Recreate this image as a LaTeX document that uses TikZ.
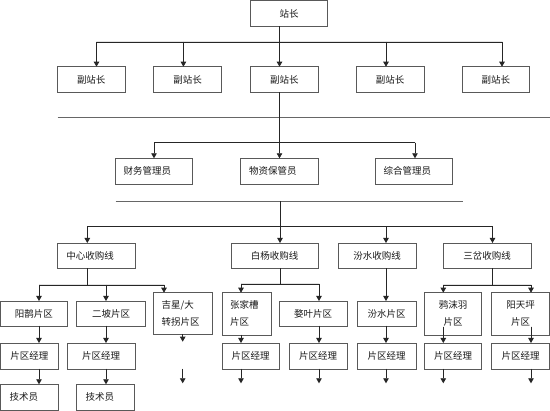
\documentclass[tikz,border=0pt]{standalone}
\usepackage{fontspec}
\setmainfont{Noto Sans CJK SC}
\usetikzlibrary{arrows.meta,calc}
\tikzset{
  box/.style={draw=black!65, line width=0.9pt, inner sep=0pt, outer sep=0pt,
    align=center, font=\fontsize{9.5}{17}\selectfont, text=black!90},
  arr/.style={-{Triangle[width=5.5pt,length=5pt]}},
  ln/.style={line width=0.8pt, draw=black!85, fill=black!85},
  sepline/.style={line width=0.9pt, draw=black!60},
}
\newcommand\bx[6]{%
  \pgfmathsetmacro\BXw{#4-#2}\pgfmathsetmacro\BXh{#5-#3}%
  \pgfmathsetmacro\BXx{(#2+#4)/2}\pgfmathsetmacro\BXy{(#3+#5)/2}%
  \node[box,minimum width=\BXw pt,minimum height=\BXh pt] (#1) at (\BXx,\BXy) {#6};}
\newcommand\bxl[7]{%
  \pgfmathsetmacro\BXw{#4-#2}\pgfmathsetmacro\BXh{#5-#3}%
  \pgfmathsetmacro\BXx{(#2+#4)/2}\pgfmathsetmacro\BXy{(#3+#5)/2}%
  \pgfmathsetmacro\BXt{#4-#2-2*#6}%
  \node[box,align=left,inner xsep=#6pt,text width=\BXt pt,minimum width=\BXw pt,minimum height=\BXh pt] (#1) at (\BXx,\BXy) {#7};}
\begin{document}
\begin{tikzpicture}[x=1pt,y=-1pt]
\useasboundingbox (0,0) rectangle (550,411);
\fill[white] (0,0) rectangle (550,411);
% level 1
\bx{zz}{250.5}{0.8}{327.5}{26.5}{站长}
% level 2
\bx{fz1}{57.5}{66.7}{125}{92.3}{副站长}
\bx{fz2}{153.6}{66.7}{221.7}{92.3}{副站长}
\bx{fz3}{250.8}{66.7}{318}{92.3}{副站长}
\bx{fz4}{356}{66.7}{424.4}{92.3}{副站长}
\bx{fz5}{462}{66.7}{529.5}{92.3}{副站长}
% level 3
\bxl{cw}{115.7}{158.3}{192.2}{184}{8}{财务管理员}
\bxl{wz}{240.6}{158.3}{318}{184}{8.5}{物资保管员}
\bxl{zh}{375.7}{158.3}{452.8}{184}{8}{综合管理员}
% level 4
\bxl{zx}{57.3}{243}{135}{268.3}{9}{中心收购线}
\bx{by}{231}{243}{318.3}{268.3}{白杨收购线}
\bx{fs}{338}{243}{416}{268.3}{汾水收购线}
\bx{sc}{443}{243}{531}{268.3}{三岔收购线}
% level 5
\bx{yq}{0.5}{301}{67.3}{326}{阳鹊片区}
\bx{ep}{76.7}{301}{145.7}{326}{二坡片区}
\bxl{jx}{153.7}{292.7}{212}{334.3}{8}{吉星/大\\转拐片区}
\bxl{zj}{222}{292.7}{271}{335}{8}{张家槽\\片区}
\bx{wy}{279}{301}{347}{326}{婺叶片区}
\bx{fp}{357}{301}{416}{326}{汾水片区}
\bx{ym}{424.3}{292.7}{481.7}{335}{鸦沫羽\\片区}
\bx{yt}{491.7}{292.7}{549.3}{335}{阳天坪\\片区}
% level 6
\bx{m1}{0.5}{343}{58.3}{369}{片区经理}
\bx{m2}{67.3}{343}{135}{369}{片区经理}
\bx{m3}{222}{343}{279.3}{369}{片区经理}
\bx{m4}{289}{343}{347}{369}{片区经理}
\bx{m5}{357}{343}{416}{369}{片区经理}
\bx{m6}{424.3}{343}{481.7}{369}{片区经理}
\bx{m7}{491.7}{343}{549.3}{369}{片区经理}
% level 7
\bxl{j1}{0.5}{384.3}{58.3}{410.5}{9}{技术员}
\bxl{j2}{76.7}{384.3}{134.7}{410.5}{9}{技术员}
% ---- connectors
\coordinate (a1) at (96.5,42);
\coordinate (a2) at (183.4,42);
\coordinate (a3) at (279.5,42);
\coordinate (a4) at (386,42);
\coordinate (a5) at (502,42);
\draw[ln] (a3 |- zz.south) -- (a3);
\draw[ln] (a1) -- (a5);
\foreach \i in {1,...,5} {\draw[ln,arr] (a\i) -- (a\i |- fz\i.north);}
\coordinate (s1) at (57.5,117.5);
\coordinate (s2) at (550,117.5);
\draw[sepline] (s1) -- (s2);
\coordinate (c1) at (154,142.7);
\coordinate (c2) at (279.5,142.7);
\coordinate (c3) at (415,142.7);
\draw[ln] (a3 |- fz3.south) -- (c2);
\draw[ln] (c1) -- (c3);
\draw[ln,arr] (c1) -- (c1 |- cw.north);
\draw[ln,arr] (c2) -- (c2 |- wz.north);
\draw[ln,arr] (c3) -- (c3 |- zh.north);
\coordinate (s3) at (115.7,201.5);
\coordinate (s4) at (462.7,201.5);
\draw[sepline] (s3) -- (s4);
\coordinate (d0) at (280,201.5);
\coordinate (d1) at (87.3,226.7);
\coordinate (d2) at (280,226.7);
\coordinate (d3) at (386,226.7);
\coordinate (d4) at (492.5,226.7);
\draw[ln] (d0) -- (d2);
\draw[ln] (d1) -- (d4);
\draw[ln,arr] (d1) -- (d1 |- zx.north);
\draw[ln,arr] (d2) -- (d2 |- by.north);
\draw[ln,arr] (d3) -- (d3 |- fs.north);
\draw[ln,arr] (d4) -- (d4 |- sc.north);
% level 5 buses
\coordinate (e1) at (39,285);
\coordinate (e2) at (106,285);
\coordinate (e3) at (164,285);
\draw[ln] (d1 |- zx.south) -- (d1 |- e1);
\draw[ln] (e1) -- (e3);
\draw[ln,arr] (e1) -- (e1 |- yq.north);
\draw[ln,arr] (e2) -- (e2 |- ep.north);
\draw[ln,arr] (e3) -- (e3 |- jx.north);
\coordinate (f1) at (241,284);
\coordinate (f2) at (319,284);
\draw[ln] (d2 |- by.south) -- (d2 |- f1);
\draw[ln] (f1) -- (f2);
\draw[ln,arr] (f1) -- (f1 |- zj.north);
\draw[ln,arr] (f2) -- (f2 |- wy.north);
\draw[ln,arr] (d3 |- fs.south) -- (d3 |- fp.north);
\coordinate (g1) at (443.3,285);
\coordinate (g2) at (531,285);
\draw[ln] (d4 |- sc.south) -- (d4 |- g1);
\draw[ln] (g1) -- (g2);
\draw[ln,arr] (g1) -- (g1 |- ym.north);
\draw[ln,arr] (g2) -- (g2 |- yt.north);
% level 6 arrows
\draw[ln,arr] (e1 |- yq.south) -- (e1 |- m1.north);
\draw[ln,arr] (e2 |- ep.south) -- (e2 |- m2.north);
\draw[ln,arr] (f1 |- zj.south) -- (f1 |- m3.north);
\draw[ln,arr] (f2 |- wy.south) -- (f2 |- m4.north);
\draw[ln,arr] (d3 |- fp.south) -- (d3 |- m5.north);
\coordinate (h1) at (443.3,326.7);
\coordinate (h2) at (531,326.7);
\draw[ln,arr] (h1) -- (h1 |- m6.north);
\draw[ln,arr] (h2) -- (h2 |- m7.north);
\coordinate (k1) at (182.7,341.7);
\coordinate (k2) at (182.7,369);
\coordinate (k3) at (182.7,383.3);
\draw[ln,arr] (k1 |- jx.south) -- (k1);
\draw[ln,arr] (k2) -- (k3);
% level 7 arrows
\draw[ln,arr] (e1 |- m1.south) -- (e1 |- j1.north);
\draw[ln,arr] (e2 |- m2.south) -- (e2 |- j2.north);
\coordinate (n3) at (241,383.3);
\coordinate (n4) at (319,383.3);
\coordinate (n5) at (386,383.3);
\coordinate (n6) at (443.3,383.3);
\coordinate (n7) at (531,383.3);
\draw[ln,arr] (n3 |- m3.south) -- (n3);
\draw[ln,arr] (n4 |- m4.south) -- (n4);
\draw[ln,arr] (n5 |- m5.south) -- (n5);
\draw[ln,arr] (n6 |- m6.south) -- (n6);
\draw[ln,arr] (n7 |- m7.south) -- (n7);
\end{tikzpicture}
\end{document}
